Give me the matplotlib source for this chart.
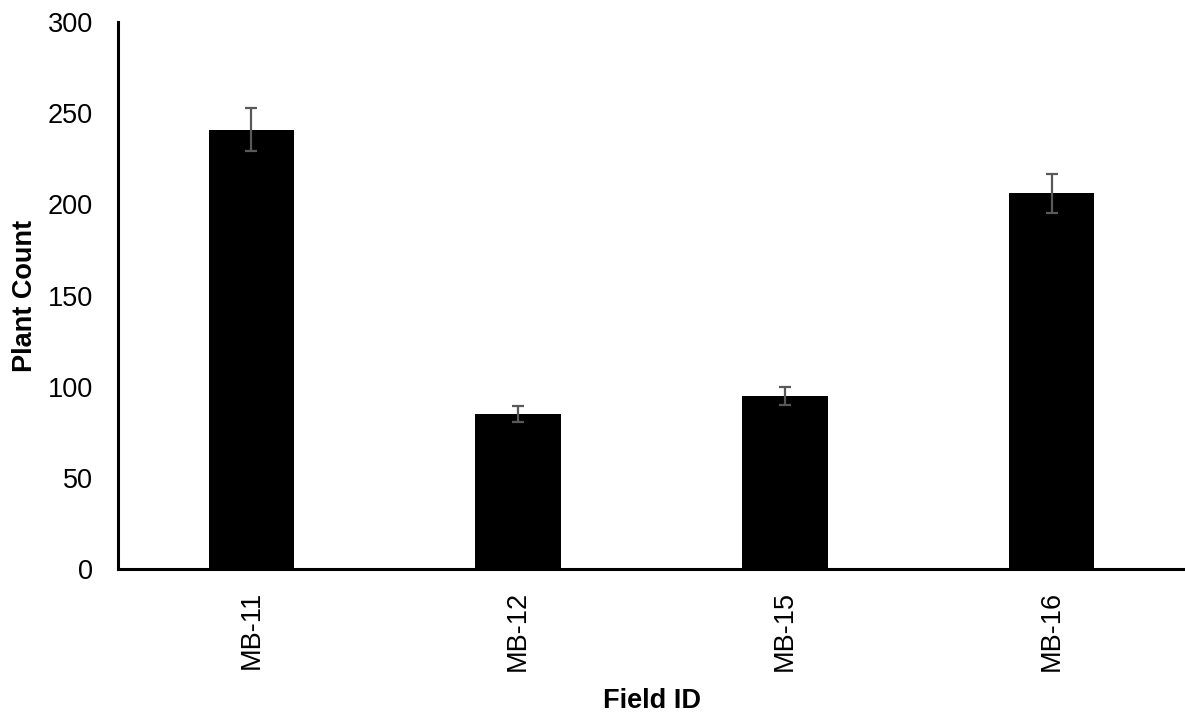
import matplotlib.pyplot as plt
import numpy as np

plt.rcParams['font.family'] = ['Liberation Sans', 'DejaVu Sans']

fields = ['MB-11', 'MB-12', 'MB-15', 'MB-16']
counts = [241, 85, 95, 206]
errors = [12, 4.3, 5, 10.5]

fig = plt.figure(figsize=(11.85, 7.17), dpi=100)
ax = fig.add_axes([0.0996, 0.2064, 0.9004, 0.7629])

x = np.arange(len(fields))
ax.bar(x, counts, width=0.32, color='black')
ax.errorbar(x, counts, yerr=errors, fmt='none', ecolor='#595959',
            elinewidth=1.6, capsize=4.3, capthick=1.6)

ax.set_xlim(-0.5, 3.5)
ax.set_ylim(0, 300)
ax.set_yticks(range(0, 301, 50))
ax.set_xticks(x)
ax.set_xticklabels(fields, rotation=90)
ax.tick_params(axis='both', length=0, labelsize=19.5)
ax.tick_params(axis='y', pad=18)
ax.tick_params(axis='x', pad=16)

for s in ['top', 'right']:
    ax.spines[s].set_visible(False)
for s in ['left', 'bottom']:
    ax.spines[s].set_linewidth(2.2)

ax.set_ylabel('Plant Count', fontsize=19.5, fontweight='bold', labelpad=7)
ax.set_xlabel('Field ID', fontsize=19.5, fontweight='bold', labelpad=12)

fig.savefig('out.png', dpi=100)
